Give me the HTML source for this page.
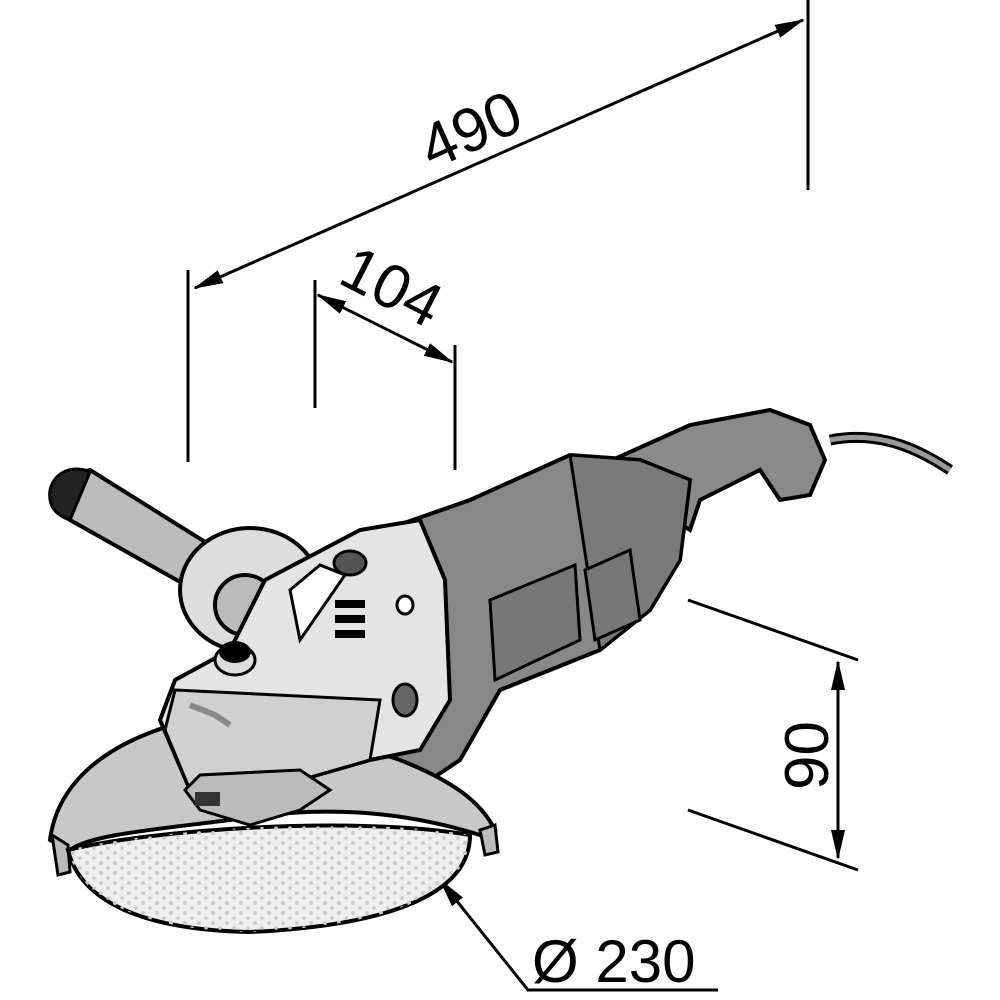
<!DOCTYPE html>
<html><head><meta charset="utf-8"><style>html,body{margin:0;padding:0;background:#fff}svg{display:block}</style></head><body>
<svg width="1000" height="1000" viewBox="0 0 1000 1000" xmlns="http://www.w3.org/2000/svg" font-family="Liberation Sans, sans-serif">
<defs>
<marker id="a" markerWidth="30" markerHeight="16" refX="28" refY="8" orient="auto-start-reverse" markerUnits="userSpaceOnUse" viewBox="0 0 30 16"><path d="M0,1 L30,8 L0,15 Z" fill="#000"/></marker>
<pattern id="dots" width="14" height="10" patternUnits="userSpaceOnUse"><circle cx="3" cy="3" r="2" fill="#ccc"/><circle cx="10" cy="8" r="1.8" fill="#c8c8c8"/></pattern>
</defs>
<g stroke="#000" stroke-width="3" fill="none">
<line x1="188" y1="270" x2="188" y2="462"/>
<line x1="808" y1="0" x2="808" y2="190"/>
<line x1="195" y1="288" x2="803" y2="20" marker-start="url(#a)" marker-end="url(#a)"/>
<line x1="315" y1="280" x2="315" y2="408"/>
<line x1="455" y1="345" x2="455" y2="470"/>
<line x1="318" y1="295" x2="452" y2="362" marker-start="url(#a)" marker-end="url(#a)"/>
<line x1="688" y1="600" x2="858" y2="660"/>
<line x1="688" y1="810" x2="858" y2="870"/>
<line x1="838" y1="662" x2="838" y2="858" marker-start="url(#a)" marker-end="url(#a)"/>
<polyline points="440,880 528,990 718,990" marker-start="url(#a)"/>
</g>
<g font-size="62" fill="#000">
<text transform="translate(432,170) rotate(-24)">490</text>
<text transform="translate(336,282) rotate(27)">104</text>
<text transform="translate(828,790) rotate(-90)">90</text>
<text x="532" y="982" font-size="60">Ø 230</text>
</g>
<path d="M830,440 C880,430 920,450 950,470" stroke="#000" stroke-width="11" fill="none"/>
<path d="M830,440 C880,430 920,450 950,470" stroke="#999" stroke-width="5" fill="none"/>
<path d="M590,470 L690,425 L770,410 L810,425 L825,460 L810,495 L780,500 L760,470 L700,500 L690,530 Z" fill="#8a8a8a" stroke="#000" stroke-width="4"/>
<path d="M370,535 L470,500 L570,455 L640,460 L690,480 L680,560 L650,610 L600,650 L500,690 L460,760 L430,780 L370,760 Z" fill="#888" stroke="#000" stroke-width="4"/>
<path d="M570,455 L640,460 L690,480 L680,560 L650,610 L600,650 Z" fill="#7a7a7a" stroke="#000" stroke-width="3"/>
<path d="M490,600 L575,565 L580,640 L495,680 Z" fill="#777" stroke="#000" stroke-width="3"/>
<path d="M585,570 L630,550 L640,620 L595,640 Z" fill="#777" stroke="#000" stroke-width="3"/>
<path d="M60,480 L90,470 L250,570 L230,610 L70,520 Z" fill="#bbb" stroke="#000" stroke-width="4"/>
<path d="M50,490 C55,470 75,465 90,472 L70,520 C55,515 48,505 50,490 Z" fill="#222" stroke="#000" stroke-width="3"/>
<ellipse cx="250" cy="590" rx="70" ry="62" fill="#ddd" stroke="#000" stroke-width="4"/>
<ellipse cx="245" cy="605" rx="30" ry="30" fill="#bbb" stroke="#000" stroke-width="4"/>
<path d="M50,840 C60,760 150,720 250,710 L400,760 C450,780 480,800 495,830 L480,835 C400,810 320,805 230,820 C150,830 90,835 70,850 Z" fill="#c8c8c8" stroke="#000" stroke-width="4"/>
<path d="M52,835 L58,875 L70,872 L68,845 Z" fill="#bbb" stroke="#000" stroke-width="3"/>
<path d="M480,830 L485,855 L498,852 L495,825 Z" fill="#bbb" stroke="#000" stroke-width="3"/>
<path d="M68,850 C150,830 350,815 470,835 C470,890 400,925 250,932 C140,930 80,900 68,850 Z" fill="#eee" stroke="#000" stroke-width="4"/>
<path d="M68,850 C150,830 350,815 470,835 C470,890 400,925 250,932 C140,930 80,900 68,850 Z" fill="url(#dots)"/>
<path d="M265,580 L360,530 L420,520 L445,580 L450,700 L420,750 L370,760 L230,800 L190,790 L160,720 L175,680 L230,650 Z" fill="#e4e4e4" stroke="#000" stroke-width="4"/>
<path d="M175,690 L380,700 L370,760 L230,800 L190,790 L165,730 Z" fill="#d0d0d0" stroke="#000" stroke-width="3"/>
<path d="M190,705 L215,715 L230,725" stroke="#888" stroke-width="6" fill="none"/>
<path d="M290,590 L320,565 L345,575 L300,640 Z" fill="#fff" stroke="#000" stroke-width="3"/>
<rect x="335" y="600" width="30" height="8" fill="#000"/><rect x="335" y="615" width="30" height="8" fill="#000"/><rect x="335" y="630" width="30" height="8" fill="#000"/>
<ellipse cx="350" cy="563" rx="16" ry="12" fill="#555" stroke="#000" stroke-width="3"/>
<ellipse cx="405" cy="605" rx="8" ry="9" fill="#fff" stroke="#000" stroke-width="3"/>
<ellipse cx="405" cy="700" rx="12" ry="16" fill="#666" stroke="#000" stroke-width="3"/>
<ellipse cx="235" cy="660" rx="20" ry="15" fill="#ddd" stroke="#000" stroke-width="3"/>
<ellipse cx="235" cy="652" rx="16" ry="11" fill="#000"/>
<path d="M185,790 L200,810 L250,825 L300,810 L330,790 L300,770 L200,775 Z" fill="#bbb" stroke="#000" stroke-width="3"/>
<rect x="195" y="792" width="25" height="14" fill="#333"/>
</svg>
</body></html>
